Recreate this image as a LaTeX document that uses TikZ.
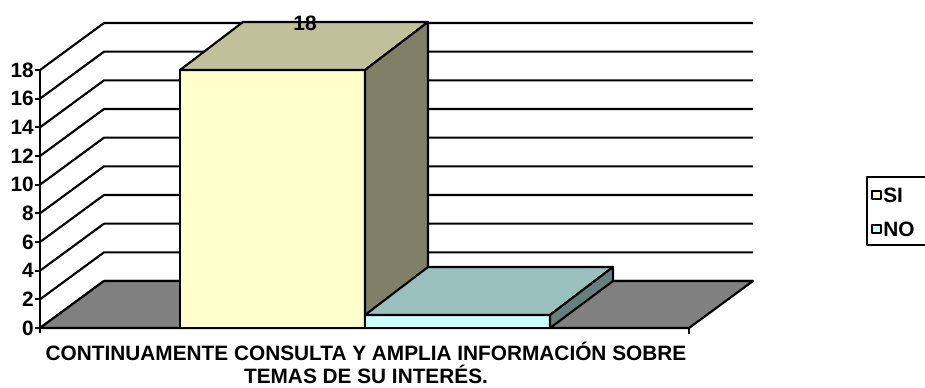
\documentclass[tikz,border=0pt]{standalone}
\usepackage{fontspec}
\setmainfont{Liberation Sans}
\definecolor{sifront}{HTML}{FFFFCC}
\definecolor{sitop}{HTML}{C0C09A}
\definecolor{siside}{HTML}{808066}
\definecolor{nofront}{HTML}{CCFFFF}
\definecolor{notop}{HTML}{9AC0BE}
\definecolor{noside}{HTML}{668080}
\definecolor{floorgray}{HTML}{808080}
\begin{document}
\begin{tikzpicture}[x=0.75pt,y=-0.75pt,line join=round,
  gl/.style={line width=1.6pt},
  lbl/.style={font=\fontsize{15.6pt}{18pt}\selectfont\bfseries,inner sep=0pt},
  mk/.style={line width=1.1pt}]
\useasboundingbox (0,0) rectangle (925,387);
\clip (0,0) rectangle (925,387);
% back and side wall gridlines
\foreach \v in {0,2,...,18} {
  \pgfmathsetmacro\yf{328-\v*14.333}
  \draw[gl] (40,\yf) -- (104,\yf-47) -- (753,\yf-47);
  \draw[gl] (35,\yf) -- (40,\yf);
  \node[lbl,anchor=base east] (y\v) at (34,\yf+7) {\v};
}
% floor
\filldraw[gl,fill=floorgray] (40,328) -- (104,281) -- (753,281) -- (689,328) -- cycle;
% SI bar
\filldraw[gl,fill=sifront] (180,70) rectangle (365,328);
\filldraw[gl,fill=sitop] (180,70) -- (243,22) -- (428,22) -- (365,70) -- cycle;
\filldraw[gl,fill=siside] (365,70) -- (428,22) -- (428,281) -- (365,328) -- cycle;
% NO bar
\filldraw[gl,fill=nofront] (365,315) rectangle (550,328);
\filldraw[gl,fill=notop] (365,315) -- (428,267) -- (613,267) -- (550,315) -- cycle;
\filldraw[gl,fill=noside] (550,315) -- (613,267) -- (613,281) -- (550,328) -- cycle;
% axes
\draw[gl] (40,70) -- (40,333);
\draw[gl] (40,328) -- (689,328);
\draw[gl] (689,328) -- (689,334);
% value label
\node[lbl,anchor=base] (val) at (305,30) {18};
% category label
\node[lbl,anchor=base] (cat1) at (366,360) {CONTINUAMENTE CONSULTA Y AMPLIA INFORMACIÓN SOBRE};
\node[lbl,anchor=base] (cat2) at (366,383) {TEMAS DE SU INTERÉS.};
% legend
\draw[line width=1.1pt] (867,177) rectangle (945,245);
\filldraw[mk,fill=sifront] (872,191) rectangle (881,199);
\filldraw[mk,fill=nofront] (872,225) rectangle (881,233);
\node[lbl,anchor=base west] (lsi) at (883,202) {SI};
\node[lbl,anchor=base west] (lno) at (883,236) {NO};
\end{tikzpicture}
\end{document}
